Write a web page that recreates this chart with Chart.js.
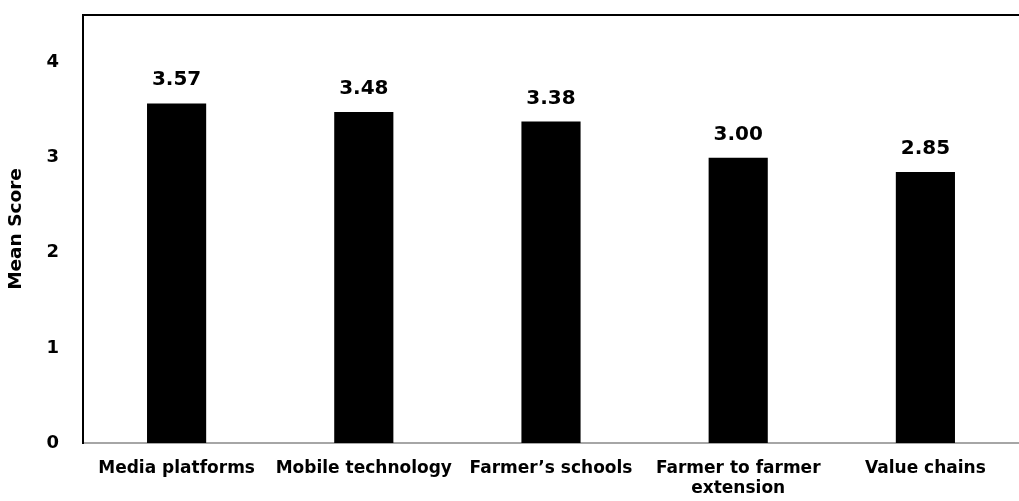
<!DOCTYPE html>
<html>
<head>
<meta charset="utf-8">
<script src="https://cdn.jsdelivr.net/npm/chart.js@4"></script>
<style>
  html, body { margin: 0; padding: 0; background: #fff; }
  #wrap { width: 1019px; height: 501px; }
</style>
</head>
<body>
<div id="wrap"><canvas id="grafica" width="1019" height="501"></canvas></div>
<script>
// Datos de la gráfica
const categorias = ['Media platforms', 'Mobile technology', 'Farmer\u2019s schools', ['Farmer to farmer', 'extension'], 'Value chains'];
const valores = [3.57, 3.48, 3.38, 3.00, 2.85];
const ticksY = [0, 1, 2, 3, 4];
const tituloY = 'Mean Score';

const fuente = 'DejaVu Sans';

// Etiquetas de valor sobre las barras y borde superior
const pluginEtiquetas = {
    id: 'etiquetas',
    afterDatasetsDraw(chart) {
        const ctx = chart.ctx;
        const meta = chart.getDatasetMeta(0);
        ctx.save();
        ctx.font = 'bold 20px "' + fuente + '"';
        ctx.fillStyle = '#000';
        ctx.textAlign = 'center';
        ctx.textBaseline = 'alphabetic';
        meta.data.forEach((bar, i) => {
            ctx.fillText(valores[i].toFixed(2), bar.x, bar.y - 18);
        });
        // linea superior del marco
        const area = chart.chartArea;
        ctx.strokeStyle = '#000';
        ctx.lineWidth = 2;
        ctx.beginPath();
        ctx.moveTo(area.left - 1, area.top);
        ctx.lineTo(chart.width, area.top);
        ctx.stroke();
        ctx.restore();
    }
};

const ctx = document.getElementById('grafica').getContext('2d');
const grafica = new Chart(ctx, {
    type: 'bar',
    data: {
        labels: categorias,
        datasets: [{
            data: valores,
            backgroundColor: '#000',
            borderWidth: 0,
            categoryPercentage: 1,
            barPercentage: 0.316
        }]
    },
    options: {
        responsive: false,
        animation: false,
        layout: { padding: { top: 15, right: 0, left: 0, bottom: 0 } },
        plugins: {
            legend: { display: false },
            tooltip: { enabled: false }
        },
        scales: {
            x: {
                grid: { display: false, drawTicks: false },
                border: { display: true, color: '#a6a6a6', width: 2 },
                ticks: {
                    color: '#000',
                    padding: 16,
                    maxRotation: 0,
                    autoSkip: false,
                    font: { family: fuente, size: 17, weight: 'bold', lineHeight: 1.15 }
                },
                afterFit(scale) { scale.height = 58; }
            },
            y: {
                min: 0,
                max: 4.5,
                afterBuildTicks(scale) {
                    scale.ticks = ticksY.map(v => ({ value: v }));
                },
                grid: { display: false, drawTicks: false },
                border: { display: true, color: '#000', width: 2 },
                ticks: {
                    color: '#000',
                    padding: 24,
                    font: { family: fuente, size: 18, weight: 'bold' }
                },
                title: {
                    display: true,
                    text: tituloY,
                    color: '#000',
                    padding: { top: 5, bottom: 0 },
                    font: { family: fuente, size: 18.5, weight: 'bold' }
                },
                afterFit(scale) {
                    scale.width = 83;
                    scale.paddingTop = 0;
                    scale.paddingBottom = 0;
                }
            }
        }
    },
    plugins: [pluginEtiquetas]
});
</script>
</body>
</html>
